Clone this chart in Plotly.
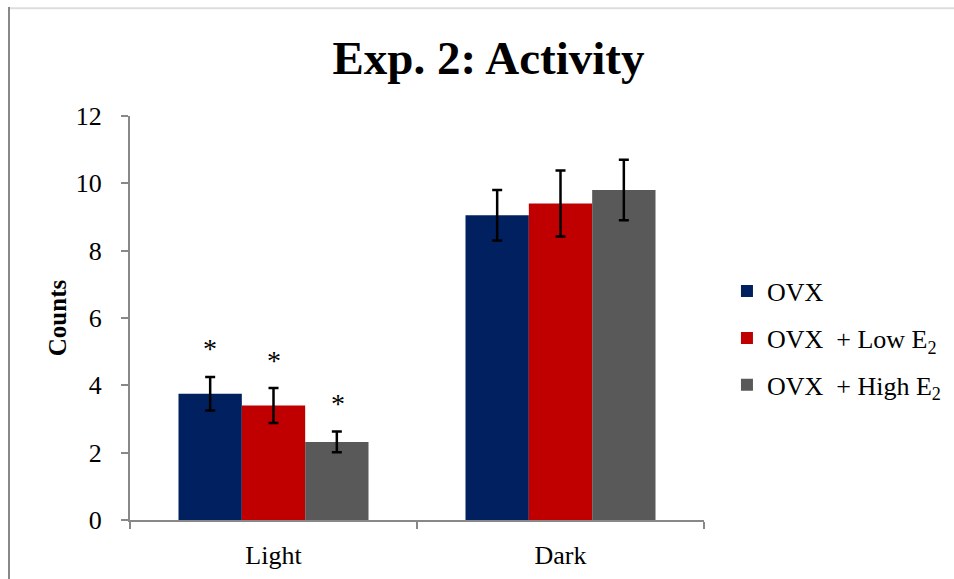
import plotly.graph_objects as go

categories = ["Light", "Dark"]
series_names = ["OVX", "OVX  + Low E<sub>2</sub>", "OVX  + High E<sub>2</sub>"]
ovx = [3.75, 9.05]
low_e2 = [3.4, 9.4]
high_e2 = [2.32, 9.8]
ovx_err = [0.5, 0.75]
low_err = [0.52, 0.98]
high_err = [0.31, 0.9]
colors = ["#002060", "#C00000", "#595959"]
y_ticks = [0, 2, 4, 6, 8, 10, 12]
sig_light = ["*", "*", "*"]

FONT = "Liberation Serif, Times New Roman, serif"

fig = go.Figure()
values = [ovx, low_e2, high_e2]
errs = [ovx_err, low_err, high_err]
for i, (name, v, e, c) in enumerate(zip(series_names, values, errs, colors)):
    fig.add_trace(go.Bar(
        x=categories, y=v, name=name, marker=dict(color=c, line=dict(width=0)),
        legendgroup=str(i),
        error_y=dict(type="data", array=e, visible=True, color="black",
                     thickness=2.5, width=5),
    ))

# significance asterisks above the Light group error bars
shifts = [-64, 0, 64]
for i, s in enumerate(sig_light):
    fig.add_annotation(x=categories[0], y=values[i][0] + errs[i][0], xref="x", yref="y",
                       text=s, showarrow=False, xshift=shifts[i], yshift=28,
                       font=dict(family=FONT, size=28, color="black"),
                       yanchor="middle")

# frame lines
fig.add_shape(type="line", xref="paper", yref="paper", x0=-0.2125, x1=1.45,
              y0=1.267, y1=1.267, line=dict(color="#dddddd", width=2))
fig.add_shape(type="line", xref="paper", yref="paper", x0=-0.2108, x1=-0.2108,
              y0=1.27, y1=-0.2, line=dict(color="#888888", width=2))

fig.update_layout(
    width=954, height=579,
    margin=dict(l=130, r=250, t=116, b=59, autoexpand=False),
    paper_bgcolor="white", plot_bgcolor="white",
    barmode="group", bargap=0.338, bargroupgap=0,
    title=dict(text="<b>Exp. 2: Activity</b>", x=0.512, xanchor="center",
               y=0.9, yanchor="middle",
               font=dict(family=FONT, size=47, color="black")),
    font=dict(family=FONT, size=26, color="black"),
    showlegend=True,
    legend=dict(x=1.04, xanchor="left", y=0.45, yanchor="middle",
                font=dict(family=FONT, size=26, color="black"),
                tracegroupgap=10, itemwidth=30, bgcolor="rgba(0,0,0,0)"),
    xaxis=dict(showline=True, linecolor="#888888", linewidth=2,
               ticks="outside", tickson="boundaries", ticklen=7, tickcolor="#888888",
               tickwidth=2, showgrid=False, ticklabelstandoff=11,
               tickfont=dict(family=FONT, size=26)),
    yaxis=dict(range=[0, 12], tickvals=y_ticks, showline=True, linecolor="#888888",
               linewidth=2, ticks="outside", ticklen=7, tickcolor="#888888", tickwidth=2,
               showgrid=False, zeroline=False, ticklabelstandoff=14,
               tickfont=dict(family=FONT, size=26),
               title=dict(text="<b>Counts</b>", font=dict(family=FONT, size=25), standoff=2)),
)

fig.write_html("out.html", config={"displayModeBar": False},
               post_script="document.body.style.margin='0';document.body.style.overflow='hidden';")
